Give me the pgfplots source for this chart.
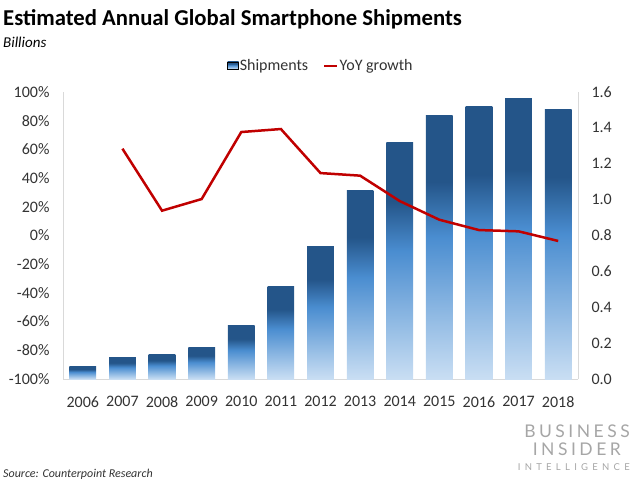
\documentclass[border=0pt]{standalone}
\usepackage{fontspec}
\setmainfont{Carlito}
\newfontfamily\logofont[LetterSpace=18]{Lato}
\usepackage{pgfplots}
\pgfplotsset{compat=1.18}
\definecolor{bdark}{HTML}{245589}
\definecolor{bmid}{HTML}{4A8DD0}
\definecolor{blight}{HTML}{C9DEF3}
\definecolor{lred}{HTML}{C00000}
\definecolor{axgray}{HTML}{D9D9D9}
\definecolor{txt}{HTML}{333333}
\definecolor{logogray}{HTML}{A6A6A6}
\pgfdeclareverticalshading{barshade}{100bp}{color(0bp)=(blight); color(25bp)=(blight); color(52bp)=(bmid); color(62.5bp)=(bdark); color(100bp)=(bdark)}
\pgfplotsset{shipbar/.style={ybar, bar width=26.7pt, bar shift=0pt, draw=none, shading=barshade}}
\begin{document}
\begin{tikzpicture}[x=1pt,y=1pt]
\useasboundingbox (0,0) rectangle (640,480);
\begin{axis}[
  at={(63pt,101pt)}, anchor=south west, scale only axis,
  width=515pt, height=287pt,
  xmin=-0.5, xmax=12.5, ymin=0, ymax=1.6,
  axis y line*=right, axis x line*=bottom,
  axis line style={axgray, line width=1pt, -},
  xtick={0,1,2,3,4,5,6,7,8,9,10,11,12},
  xticklabels={2006,2007,2008,2009,2010,2011,2012,2013,2014,2015,2016,2017,2018},
  ytick={0,0.2,0.4,0.6,0.8,1.0,1.2,1.4,1.6},
  yticklabels={0.0,0.2,0.4,0.6,0.8,1.0,1.2,1.4,1.6},
  major tick length=0pt,
  tick label style={font=\fontsize{16}{19}\selectfont, text=txt},
  yticklabel style={xshift=10pt},
  xticklabel style={yshift=-14pt},
]
\addplot[shipbar] coordinates {(0,0.072)};
\addplot[shipbar] coordinates {(1,0.119)};
\addplot[shipbar] coordinates {(2,0.138)};
\addplot[shipbar] coordinates {(3,0.173)};
\addplot[shipbar] coordinates {(4,0.297)};
\addplot[shipbar] coordinates {(5,0.518)};
\addplot[shipbar] coordinates {(6,0.741)};
\addplot[shipbar] coordinates {(7,1.052)};
\addplot[shipbar] coordinates {(8,1.321)};
\addplot[shipbar] coordinates {(9,1.467)};
\addplot[shipbar] coordinates {(10,1.520)};
\addplot[shipbar] coordinates {(11,1.561)};
\addplot[shipbar] coordinates {(12,1.500)};
\end{axis}
\begin{axis}[
  at={(63pt,101pt)}, anchor=south west, scale only axis,
  width=515pt, height=287pt,
  xmin=-0.5, xmax=12.5, ymin=-100, ymax=100,
  axis y line*=left, axis x line=none,
  axis line style={axgray, line width=1pt, -},
  ytick={-100,-80,-60,-40,-20,0,20,40,60,80,100},
  yticklabels={-100\%,-80\%,-60\%,-40\%,-20\%,0\%,20\%,40\%,60\%,80\%,100\%},
  major tick length=0pt,
  tick label style={font=\fontsize{16}{19}\selectfont, text=txt},
  yticklabel style={xshift=-10pt},
  legend columns=2,
  legend style={draw=none, fill=none, at={(0.5,1.0906)}, anchor=center,
    font=\fontsize{16}{19}\selectfont, text=txt,
    /tikz/every even column/.append style={column sep=14pt},
    nodes={inner sep=1pt}},
]
\addlegendimage{legend image code/.code={\path[shading=barshade] (0pt,-3pt) rectangle (11pt,4pt);}}
\addlegendentry{Shipments}
\addplot[lred, line width=2.5pt, legend image code/.code={\draw[lred, line width=2.5pt] (0pt,0pt) -- (13pt,0pt);}] coordinates {
(1,60.5) (2,17.3) (3,25.4) (4,72.1) (5,74.2) (6,43.5) (7,41.7)
(8,24) (9,11) (10,3.8) (11,2.9) (12,-3.8)};
\addlegendentry{YoY growth}
\end{axis}
\node[anchor=base west, inner sep=0, font=\fontsize{22.7}{27}\selectfont\bfseries] at (3,454) {Estimated Annual Global Smartphone Shipments};
\node[anchor=base west, inner sep=0, font=\fontsize{15}{18}\selectfont\itshape] at (3,432) {Billions};
\node[anchor=base west, inner sep=0, text=txt, font=\fontsize{12}{14}\selectfont\itshape] at (3,3) {Source: Counterpoint Research};
\node[anchor=base east, inner sep=0, text=logogray, font=\logofont\fontsize{17.5}{20}\selectfont\addfontfeature{LetterSpace=20}] at (630,43) {BUSINESS};
\node[anchor=base east, inner sep=0, text=logogray, font=\logofont\fontsize{17.5}{20}\selectfont\addfontfeature{LetterSpace=20}] at (621,25) {INSIDER};
\node[anchor=base east, inner sep=0, text=logogray, font=\logofont\fontsize{9.5}{11}\selectfont\addfontfeature{LetterSpace=45}] at (630,10) {INTELLIGENCE};
\end{tikzpicture}
\end{document}
